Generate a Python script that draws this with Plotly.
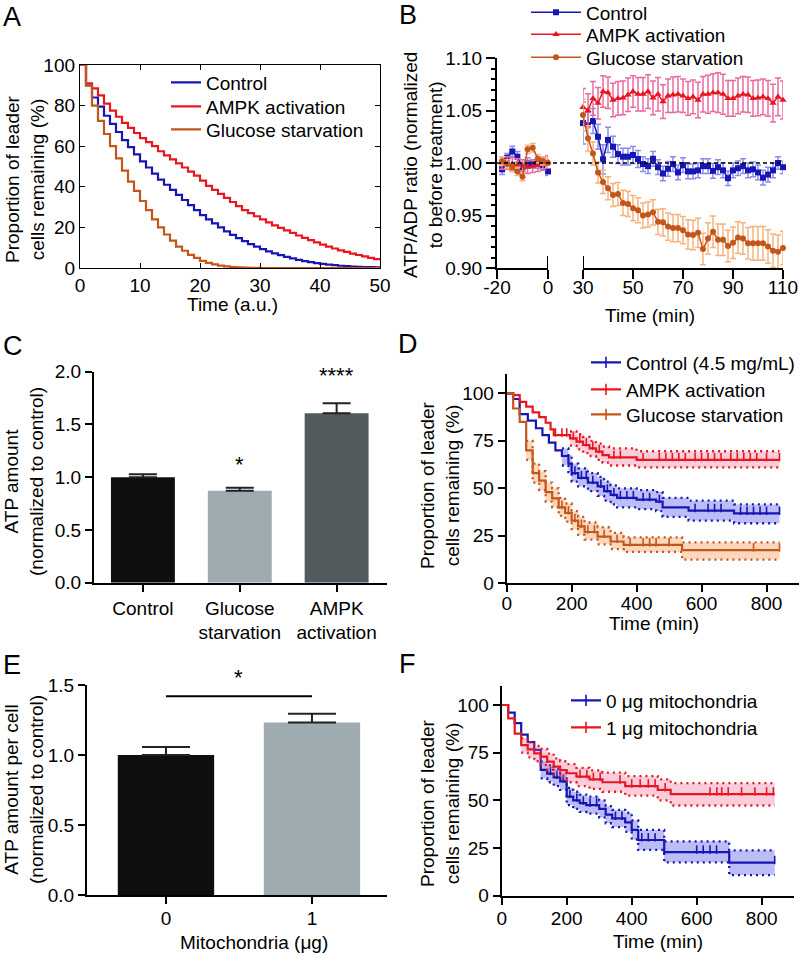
import plotly.graph_objects as go

FONT = "Liberation Sans, Arial, sans-serif"
W, H = 802, 954

# ---------------- Panel A: model survival curves ----------------
A_time = list(range(0, 51))
A_names = ["Control", "AMPK activation", "Glucose starvation"]
A_control = [100, 90, 84, 79.5, 75, 71, 67, 63, 59.5, 56, 52.5, 49.5, 46.5, 43.5, 41, 38.5, 36, 33.5, 31,
             28.5, 26, 24, 22, 20, 18, 16.3, 14.7, 13.2, 11.8, 10.5, 9.3, 8.2, 7.2, 6.3, 5.5, 4.7, 4.0, 3.4,
             2.9, 2.4, 2.0, 1.7, 1.4, 1.1, 0.9, 0.7, 0.6, 0.5, 0.4, 0.3, 0.25]
A_ampk = [100, 91, 88.5, 85, 81, 77.5, 74.5, 71.5, 69, 66.5, 64, 62, 60, 57.5, 55.5, 53.5, 51.5, 49.5, 47.5,
          45.5, 43, 40.5, 38.5, 36.5, 34.5, 32.5, 30.5, 28.5, 27, 25.5, 24, 22.5, 21, 19.8, 18.5, 17.3, 16,
          14.8, 13.7, 12.6, 11.5, 10.5, 9.6, 8.7, 7.9, 7.1, 6.4, 5.7, 5.0, 4.4, 3.8]
A_glucose = [100, 90, 80, 72.5, 66, 60, 54, 48, 42.5, 38, 33, 28.5, 24, 20, 16.5, 13.5, 10.5, 8.5, 6.5, 5,
             3.5, 2.5, 1.8, 1.2, 0.8, 0.5, 0.3, 0.2, 0.1, 0.05, 0, 0, 0, 0, 0, 0, 0, 0, 0, 0, 0, 0, 0, 0,
             0, 0, 0, 0, 0, 0, 0]

# ---------------- Panel B: ATP/ADP ratio time course ----------------
B_names = ["Control", "AMPK activation", "Glucose starvation"]
B_pre_time = [-18, -16, -14, -12, -10, -8, -6, -4, -2, 0]
B_pre_control = [0.994, 1.005, 1.011, 1.006, 0.996, 1.000, 0.999, 0.999, 0.998, 0.992]
B_pre_control_err = [0.005, 0.004, 0.005, 0.005, 0.004, 0.005, 0.004, 0.004, 0.004, 0.004]
B_pre_ampk = [1.000, 1.000, 0.999, 0.998, 0.997, 0.996, 0.997, 0.998, 0.999, 1.001]
B_pre_ampk_err = [0.006, 0.006, 0.006, 0.006, 0.006, 0.006, 0.006, 0.006, 0.006, 0.006]
B_pre_glucose = [1.002, 0.999, 0.996, 0.992, 0.987, 1.013, 1.0145, 1.004, 1.002, 1.000]
B_pre_glucose_err = [0.004, 0.004, 0.004, 0.004, 0.004, 0.004, 0.004, 0.004, 0.004, 0.004]

B_post_time = list(range(30, 111, 2))
B_post_control = [1.038, 1.036, 1.040, 1.025, 1.0035, 1.022, 1.0155, 1.0085, 1.006, 1.006, 1.0076, 1.0038,
                  0.999, 0.997, 1.004, 0.996, 0.990, 0.9945, 0.999, 0.991, 0.998, 0.992, 0.992, 0.993,
                  0.997, 0.997, 0.9925, 0.996, 0.993, 0.9855, 0.993, 0.995, 0.997, 0.993, 0.994, 0.991,
                  0.986, 0.989, 0.993, 1.000, 0.996]
B_post_control_err = [0.020, 0.012, 0.012, 0.012, 0.014, 0.012, 0.010, 0.009, 0.008, 0.008, 0.008, 0.008,
                      0.007, 0.007, 0.007, 0.007, 0.007, 0.007, 0.007, 0.007, 0.007, 0.007, 0.007, 0.007,
                      0.007, 0.007, 0.007, 0.007, 0.007, 0.007, 0.007, 0.007, 0.007, 0.007, 0.007, 0.007,
                      0.007, 0.007, 0.007, 0.006, 0.006]
B_post_ampk = [1.053, 1.050, 1.0615, 1.057, 1.068, 1.067, 1.060, 1.0615, 1.062, 1.065, 1.068, 1.0655,
               1.0655, 1.068, 1.062, 1.0655, 1.0585, 1.064, 1.065, 1.0655, 1.064, 1.0615, 1.063, 1.060,
               1.0655, 1.0655, 1.067, 1.067, 1.0655, 1.0615, 1.0615, 1.064, 1.0655, 1.065, 1.0615, 1.062,
               1.063, 1.0615, 1.057, 1.063, 1.060]
B_post_ampk_err = [0.018, 0.016, 0.016, 0.015, 0.015, 0.015, 0.016, 0.016, 0.016, 0.016, 0.015, 0.016,
                   0.016, 0.016, 0.016, 0.016, 0.016, 0.016, 0.017, 0.017, 0.016, 0.016, 0.016, 0.017,
                   0.017, 0.018, 0.018, 0.019, 0.019, 0.017, 0.017, 0.017, 0.017, 0.017, 0.017, 0.017,
                   0.017, 0.017, 0.018, 0.018, 0.018]
B_post_glucose = [1.0457, 1.0235, 1.009, 0.991, 0.982, 0.976, 0.9695, 0.9705, 0.962, 0.961, 0.957, 0.955,
                  0.950, 0.951, 0.953, 0.944, 0.9435, 0.9395, 0.938, 0.938, 0.936, 0.932, 0.9315, 0.9335,
                  0.918, 0.928, 0.9345, 0.927, 0.927, 0.921, 0.924, 0.929, 0.928, 0.9235, 0.9235, 0.9235,
                  0.9235, 0.9205, 0.9165, 0.9155, 0.919]
B_post_glucose_err = [0.015, 0.012, 0.011, 0.010, 0.011, 0.011, 0.011, 0.011, 0.012, 0.012, 0.012, 0.012,
                      0.012, 0.012, 0.012, 0.012, 0.013, 0.013, 0.013, 0.013, 0.013, 0.014, 0.014, 0.014,
                      0.015, 0.015, 0.015, 0.015, 0.015, 0.015, 0.015, 0.015, 0.015, 0.015, 0.016, 0.016,
                      0.016, 0.016, 0.016, 0.016, 0.016]

# ---------------- Panel C: ATP amount bars ----------------
C_labels = ["Control", "Glucose<br>starvation", "AMPK<br>activation"]
C_values = [1.0, 0.872, 1.606]
C_err = [0.027, 0.028, 0.094]
C_colors = ["#0E0E0E", "#9FAAB0", "#525C5E"]
C_sig = ["", "*", "****"]
C_sig_y = [None, 1.12, 1.96]

# ---------------- Panel D: Kaplan-Meier ----------------
D_names = ["Control (4.5 mg/mL)", "AMPK activation", "Glucose starvation"]
D_ctrl_t = [0, 20, 40, 65, 90, 110, 130, 150, 170, 190, 200, 220, 250, 280, 300, 320, 340, 400, 460, 480, 560, 700, 840]
D_ctrl_v = [100, 97, 89, 85.6, 81.6, 78, 74, 70, 67, 63, 58, 55.5, 53, 51, 48.5, 46.5, 45, 44, 43, 40, 38.2, 36.8, 36.8]
D_ctrl_up = [None] * 8 + [71, 67.5, 63, 60.5, 58, 56, 53.5, 51.5, 50, 49, 48, 45, 43.5, 41.5, 41.5]
D_ctrl_lo = [None] * 8 + [62, 58.5, 53.5, 51, 48.5, 46, 43.5, 41.5, 40, 39, 38, 35, 33, 31.6, 31.6]
D_ctrl_cens = [210, 230, 245, 265, 290, 310, 330, 350, 370, 390, 420, 440, 470, 580, 620, 640, 660, 720, 740,
               760, 780, 800, 840]
D_ampk_t = [0, 20, 40, 60, 80, 100, 120, 135, 145, 195, 215, 235, 255, 275, 295, 315, 400, 840]
D_ampk_v = [100, 99, 95.5, 93, 90, 87.5, 84.5, 81, 78, 76.3, 74.6, 72.8, 71, 69.3, 67.5, 66.3, 65, 65]
D_ampk_up = [None] * 9 + [80, 78.5, 77, 75, 73.5, 72, 71, 69.5, 69.5]
D_ampk_lo = [None] * 9 + [72.5, 70.5, 68.5, 67, 65, 63.5, 62, 61, 61]
D_ampk_cens = [150, 170, 185, 205, 225, 245, 265, 285, 330, 350, 420, 470, 490, 510, 530, 550, 580, 600, 620,
               640, 660, 690, 710, 730, 750, 770, 800, 840]
D_gluc_t = [0, 20, 40, 60, 80, 100, 120, 140, 160, 180, 200, 220, 240, 280, 320, 360, 540, 840]
D_gluc_v = [100, 92, 85, 70, 58, 54, 48, 44.7, 40, 37, 33, 30, 27, 24.6, 22, 20.2, 17.5, 17.5]
D_gluc_up = [None] * 3 + [75, 63, 59, 53, 50, 45, 42, 38, 35, 32, 29.5, 26.5, 24.2, 21.5, 21.5]
D_gluc_lo = [None] * 3 + [65, 53, 49, 43, 40, 35.5, 32.5, 28.5, 25.5, 23, 20.5, 18, 16.5, 12.5, 12.5]
D_gluc_cens = [170, 190, 210, 230, 250, 270, 300, 340, 380, 420, 440, 460, 500, 760, 840]

# ---------------- Panel E: ATP per cell bars ----------------
E_labels = ["0", "1"]
E_values = [1.0, 1.233]
E_err = [0.057, 0.062]
E_colors = ["#0E0E0E", "#9EABB1"]
E_sig_y = 1.42

# ---------------- Panel F: Kaplan-Meier ----------------
F_names = ["0 μg mitochondria", "1 μg mitochondria"]
F_m0_t = [0, 20, 40, 60, 80, 100, 120, 140, 160, 180, 200, 220, 240, 260, 300, 320, 340, 380, 400, 420, 500, 700, 840]
F_m0_v = [100, 96, 90.5, 84.5, 80.5, 76.5, 66, 64, 62, 60, 52, 50, 48.5, 47.5, 45.5, 42.5, 40.5, 38.5, 34.5,
          29.2, 22.8, 17.3, 17.3]
F_m0_up = [None] * 6 + [70.5, 68.5, 66.5, 64.5, 56.5, 54.5, 53, 52, 50, 47, 45, 43.5, 39.5, 34.5, 28.5, 23.8, 23.8]
F_m0_lo = [None] * 6 + [61.5, 59.5, 57.5, 55.5, 47.5, 45.5, 44, 43, 41, 38, 36, 33.5, 29.5, 24, 17.5, 10.8, 10.8]
F_m0_cens = [150, 170, 190, 210, 231, 251, 272, 292, 350, 370, 431, 451, 472, 600, 620, 641, 661, 840]
F_m1_t = [0, 20, 40, 60, 80, 100, 120, 140, 160, 180, 200, 230, 270, 310, 380, 480, 520, 840]
F_m1_v = [100, 93, 85, 79, 76.7, 74.6, 72.9, 70.3, 67.7, 65.9, 64.2, 62.4, 61, 59.5, 57.5, 55.5, 53.3, 53.3]
F_m1_up = [None] * 3 + [82.5, 80.5, 78.5, 77, 74.5, 72, 70.5, 69, 67, 65.7, 64.5, 62.7, 61, 59, 59]
F_m1_lo = [None] * 3 + [75, 72.5, 70.5, 68.5, 66, 63.5, 61.5, 59.5, 57.5, 56, 54.5, 52.5, 50, 47.3, 47.3]
F_m1_cens = [241, 262, 282, 303, 364, 400, 426, 451, 472, 503, 641, 662, 677, 697, 738, 779, 815, 836]

BLUE = "#1616B4"
RED = "#E8161E"
ORANGE = "#C4561C"


def xd(a, b):
    return [a / W, b / W]


def yd(top, bottom):
    return [1 - bottom / H, 1 - top / H]


fig = go.Figure()
legends = {}
_leg_count = [0]


def new_legend(text_x, center_y, itemwidth=30):
    """one legend box per entry so each row sits where the reference shows it"""
    _leg_count[0] += 1
    key = "legend" if _leg_count[0] == 1 else "legend%d" % _leg_count[0]
    off = 41 + (itemwidth - 30)
    legends[key] = dict(x=(text_x - off) / W, y=1 - (center_y - 19.5) / H, xanchor="left", yanchor="top",
                        bgcolor="rgba(0,0,0,0)", itemwidth=itemwidth, traceorder="normal",
                        font=dict(family=FONT, size=19, color="black"))
    return key


# ---- A ----
A_leg_rows = [83, 107, 130]
for name, vals, col, ry in zip(A_names, [A_control, A_ampk, A_glucose], [BLUE, RED, ORANGE], A_leg_rows):
    fig.add_trace(go.Scatter(x=A_time, y=vals, mode="lines", line=dict(color=col, width=2.2, shape="hv"),
                             name=name, legend=new_legend(207, ry), xaxis="x", yaxis="y"))

# ---- B ----
B_err_cols = ["#8C8CEA", "#EA6AA0", "#F5B47E"]
B_cols = [BLUE, RED, ORANGE]
B_sym = ["square", "triangle-up", "circle"]
B_size = [6, 6.5, 6]
B_pre = [(B_pre_control, B_pre_control_err), (B_pre_ampk, B_pre_ampk_err), (B_pre_glucose, B_pre_glucose_err)]
B_post = [(B_post_control, B_post_control_err), (B_post_ampk, B_post_ampk_err),
          (B_post_glucose, B_post_glucose_err)]
B_leg_rows = [13, 35, 58]
for i in range(3):
    leg = new_legend(587, B_leg_rows[i], itemwidth=50)
    for xs, (ys, es), xa, show in [(B_pre_time, B_pre[i], "x2", False), (B_post_time, B_post[i], "x3", True)]:
        fig.add_trace(go.Scatter(
            x=xs, y=ys, mode="lines+markers", name=B_names[i], showlegend=show,
            legend=leg, xaxis=xa, yaxis="y2", cliponaxis=False,
            line=dict(color=B_cols[i], width=1.5),
            marker=dict(symbol=B_sym[i], size=B_size[i], color=B_cols[i]),
            error_y=dict(type="data", array=es, color=B_err_cols[i], thickness=1.5, width=3)))

# ---- C ----
fig.add_trace(go.Bar(x=C_labels, y=C_values, marker=dict(color=C_colors, line=dict(width=0)), width=0.66,
                     error_y=dict(type="data", array=C_err, arrayminus=[0] * len(C_err), symmetric=False,
                                  color="#222222", thickness=2, width=14),
                     xaxis="x4", yaxis="y3", showlegend=False))


def level_at(ts, vs, x):
    val = vs[0]
    for ti, vi in zip(ts, vs):
        if ti <= x:
            val = vi
    return val


def add_km(t, v, up, lo, cens, color, fill, xa, ya, name, leg):
    idx = [i for i in range(len(t)) if up[i] is not None]
    tb = [t[i] for i in idx]
    fig.add_trace(go.Scatter(x=tb, y=[lo[i] for i in idx], mode="lines", showlegend=False, xaxis=xa, yaxis=ya,
                             line=dict(color=color, width=2.3, shape="hv", dash="2px,4px")))
    fig.add_trace(go.Scatter(x=tb, y=[up[i] for i in idx], mode="lines", showlegend=False, xaxis=xa, yaxis=ya,
                             fill="tonexty", fillcolor=fill,
                             line=dict(color=color, width=2.3, shape="hv", dash="2px,4px")))
    fig.add_trace(go.Scatter(x=t, y=v, mode="lines", showlegend=False, xaxis=xa, yaxis=ya,
                             line=dict(color=color, width=2.2, shape="hv")))
    fig.add_trace(go.Scatter(x=cens, y=[level_at(t, v, c) + 1.4 for c in cens], mode="markers",
                             showlegend=False, xaxis=xa, yaxis=ya, cliponaxis=False,
                             marker=dict(symbol="line-ns", size=6, line=dict(color=color, width=1.6))))
    fig.add_trace(go.Scatter(x=[None], y=[None], mode="lines+markers", name=name, legend=leg, xaxis=xa, yaxis=ya,
                             line=dict(color=color, width=2.2),
                             marker=dict(symbol="line-ns", size=8, line=dict(color=color, width=1.6))))


D_leg_rows = [363, 390, 415]
add_km(D_ctrl_t, D_ctrl_v, D_ctrl_up, D_ctrl_lo, D_ctrl_cens, BLUE, "rgba(80,80,235,0.38)", "x5", "y4",
       D_names[0], new_legend(627, D_leg_rows[0]))
add_km(D_ampk_t, D_ampk_v, D_ampk_up, D_ampk_lo, D_ampk_cens, RED, "rgba(240,100,150,0.32)", "x5", "y4",
       D_names[1], new_legend(627, D_leg_rows[1]))
add_km(D_gluc_t, D_gluc_v, D_gluc_up, D_gluc_lo, D_gluc_cens, ORANGE, "rgba(245,150,80,0.38)", "x5", "y4",
       D_names[2], new_legend(627, D_leg_rows[2]))

# ---- E ----
fig.add_trace(go.Bar(x=E_labels, y=E_values, marker=dict(color=E_colors, line=dict(width=0)), width=0.66,
                     error_y=dict(type="data", array=E_err, arrayminus=[0] * len(E_err), symmetric=False,
                                  color="#222222", thickness=2, width=24),
                     xaxis="x6", yaxis="y5", showlegend=False))

# ---- F ----
F_leg_rows = [701, 728]
add_km(F_m0_t, F_m0_v, F_m0_up, F_m0_lo, F_m0_cens, BLUE, "rgba(80,80,235,0.38)", "x7", "y6",
       F_names[0], new_legend(607, F_leg_rows[0]))
add_km(F_m1_t, F_m1_v, F_m1_up, F_m1_lo, F_m1_cens, RED, "rgba(240,100,150,0.32)", "x7", "y6",
       F_names[1], new_legend(607, F_leg_rows[1]))

tickfont = dict(family=FONT, size=19, color="black")
ax_common = dict(showgrid=False, zeroline=False, showline=True, linecolor="black", tickfont=tickfont,
                 tickcolor="black", automargin=False)
outside = dict(ax_common, linewidth=2, ticks="outside", ticklen=7, tickwidth=2)

layout = dict(
    width=W, height=H, margin=dict(l=0, r=0, t=0, b=0, autoexpand=False), paper_bgcolor="white",
    plot_bgcolor="rgba(0,0,0,0)",
    font=dict(family=FONT, size=19, color="black"),
    # A
    xaxis=dict(ax_common, domain=xd(80, 380), range=[0, 50], tickvals=[0, 10, 20, 30, 40, 50], ticks="inside",
               ticklen=5, mirror="ticks", linewidth=1.3, tickwidth=1.3, anchor="y"),
    yaxis=dict(ax_common, domain=yd(65, 268), range=[0, 100], tickvals=[0, 20, 40, 60, 80, 100], ticks="inside",
               ticklen=5, mirror="ticks", linewidth=1.3, tickwidth=1.3, anchor="x"),
    # B
    xaxis2=dict(outside, domain=xd(497, 548), range=[-20, 0], tickvals=[-20, 0], ticktext=["-20", "0"],
                ticklen=9, ticklabelstandoff=-8, anchor="y2"),
    xaxis3=dict(outside, domain=xd(583, 783), range=[30, 110], tickvals=[30, 50, 70, 90, 110], ticklen=9,
                ticklabelstandoff=-8, anchor="y2"),
    yaxis2=dict(outside, domain=yd(58, 268), range=[0.90, 1.10], tickvals=[0.90, 0.95, 1.00, 1.05, 1.10],
                tickformat=".2f", ticklen=9, anchor="x2",
                minor=dict(ticks="outside", dtick=0.01, tick0=0.9, ticklen=4, tickwidth=1.5, tickcolor="black")),
    # C
    xaxis4=dict(outside, domain=xd(94, 387), type="category", range=[-0.505, 2.52], anchor="y3"),
    yaxis3=dict(outside, domain=yd(371.7, 582.7), range=[0, 2.0], tickvals=[0, 0.5, 1.0, 1.5, 2.0],
                tickformat=".1f", anchor="x4"),
    # D
    xaxis5=dict(outside, domain=xd(506.7, 799), range=[0, 900], tickvals=[0, 200, 400, 600, 800],
                ticklabelstandoff=-5, anchor="y4"),
    yaxis4=dict(outside, domain=yd(583.3 - 110 * 1.9, 583.3), range=[0, 110], tickvals=[0, 25, 50, 75, 100],
                anchor="x5"),
    # E
    xaxis6=dict(outside, domain=xd(87, 387), type="category", range=[-0.541, 1.514], ticklabelstandoff=-2,
                anchor="y5"),
    yaxis5=dict(outside, domain=yd(685, 895), range=[0, 1.5], tickvals=[0, 0.5, 1.0, 1.5], tickformat=".1f",
                anchor="x6"),
    # F
    xaxis7=dict(outside, domain=xd(501.7, 794.2), range=[0, 900], tickvals=[0, 200, 400, 600, 800],
                ticklabelstandoff=-3, anchor="y6"),
    yaxis6=dict(outside, domain=yd(895.7 - 110 * 1.907, 895.7), range=[0, 110], tickvals=[0, 25, 50, 75, 100],
                anchor="x7"),
)
layout.update(legends)
fig.update_layout(**layout)

shapes = []
# B: dashed reference line at 1.00 across both segments
shapes.append(dict(type="line", xref="paper", yref="y2", x0=497 / W, x1=783 / W, y0=1.0, y1=1.0,
                   line=dict(color="black", width=1.5, dash="4px,3px")))
# B: axis break marks
for xr, xv in [("x2", 0), ("x3", 30)]:
    shapes.append(dict(type="line", xref=xr, yref="paper", x0=xv, x1=xv, y0=1 - 268 / H, y1=1 - 256 / H,
                       line=dict(color="black", width=2)))
# E: significance bracket
shapes.append(dict(type="line", xref="x6", yref="y5", x0=0, x1=1, y0=E_sig_y, y1=E_sig_y,
                   line=dict(color="black", width=2)))
fig.update_layout(shapes=shapes)

ann = []


def text(x, y, s, size=19, angle=0, xanchor="center", yanchor="middle", xref="paper", yref="paper"):
    ann.append(dict(x=x, y=y, xref=xref, yref=yref, text=s, showarrow=False, textangle=angle,
                    xanchor=xanchor, yanchor=yanchor, font=dict(family=FONT, size=size, color="black")))


# panel letters
for letter, (cx, cy) in zip("ABCDEF", [(11.5, 17), (408, 15), (13, 346), (408, 344), (12, 665), (408, 664)]):
    text(cx / W, 1 - cy / H, letter, size=27)

# axis titles
text(25 / W, 1 - 179 / H, "Proportion of leader<br>cells remaining (%)", angle=-90)
text(232 / W, 1 - 305 / H, "Time (a.u.)")
text(423 / W, 1 - 165 / H, "ATP/ADP ratio (normalized<br>to before treatment)", angle=-90)
text(650 / W, 1 - 315 / H, "Time (min)")
text(24 / W, 1 - 482 / H, "ATP amount<br>(normalized to control)", angle=-90)
text(440 / W, 1 - 485 / H, "Proportion of leader<br>cells remaining (%)", angle=-90)
text(654 / W, 1 - 623 / H, "Time (min)")
text(24 / W, 1 - 790 / H, "ATP amount per cell<br>(normalized to control)", angle=-90)
text(254 / W, 1 - 942 / H, "Mitochondria (μg)")
text(440 / W, 1 - 803 / H, "Proportion of leader<br>cells remaining (%)", angle=-90)
text(658 / W, 1 - 941 / H, "Time (min)")

# significance stars
for lab, s, sy in zip(C_labels, C_sig, C_sig_y):
    if s:
        text(lab, sy, s, size=22, xref="x4", yref="y3")
# E star centred over the bracket (midway between the two bars)
e_dom = xd(87, 387)
e_rng = [-0.541, 1.514]
e_mid = e_dom[0] + (0.5 - e_rng[0]) / (e_rng[1] - e_rng[0]) * (e_dom[1] - e_dom[0])
text(e_mid, 1 - 677 / H, "*", size=22)

fig.update_layout(annotations=ann)
fig.write_html("out.html", config={"displayModeBar": False},
               post_script="document.body.style.margin='0px';")
